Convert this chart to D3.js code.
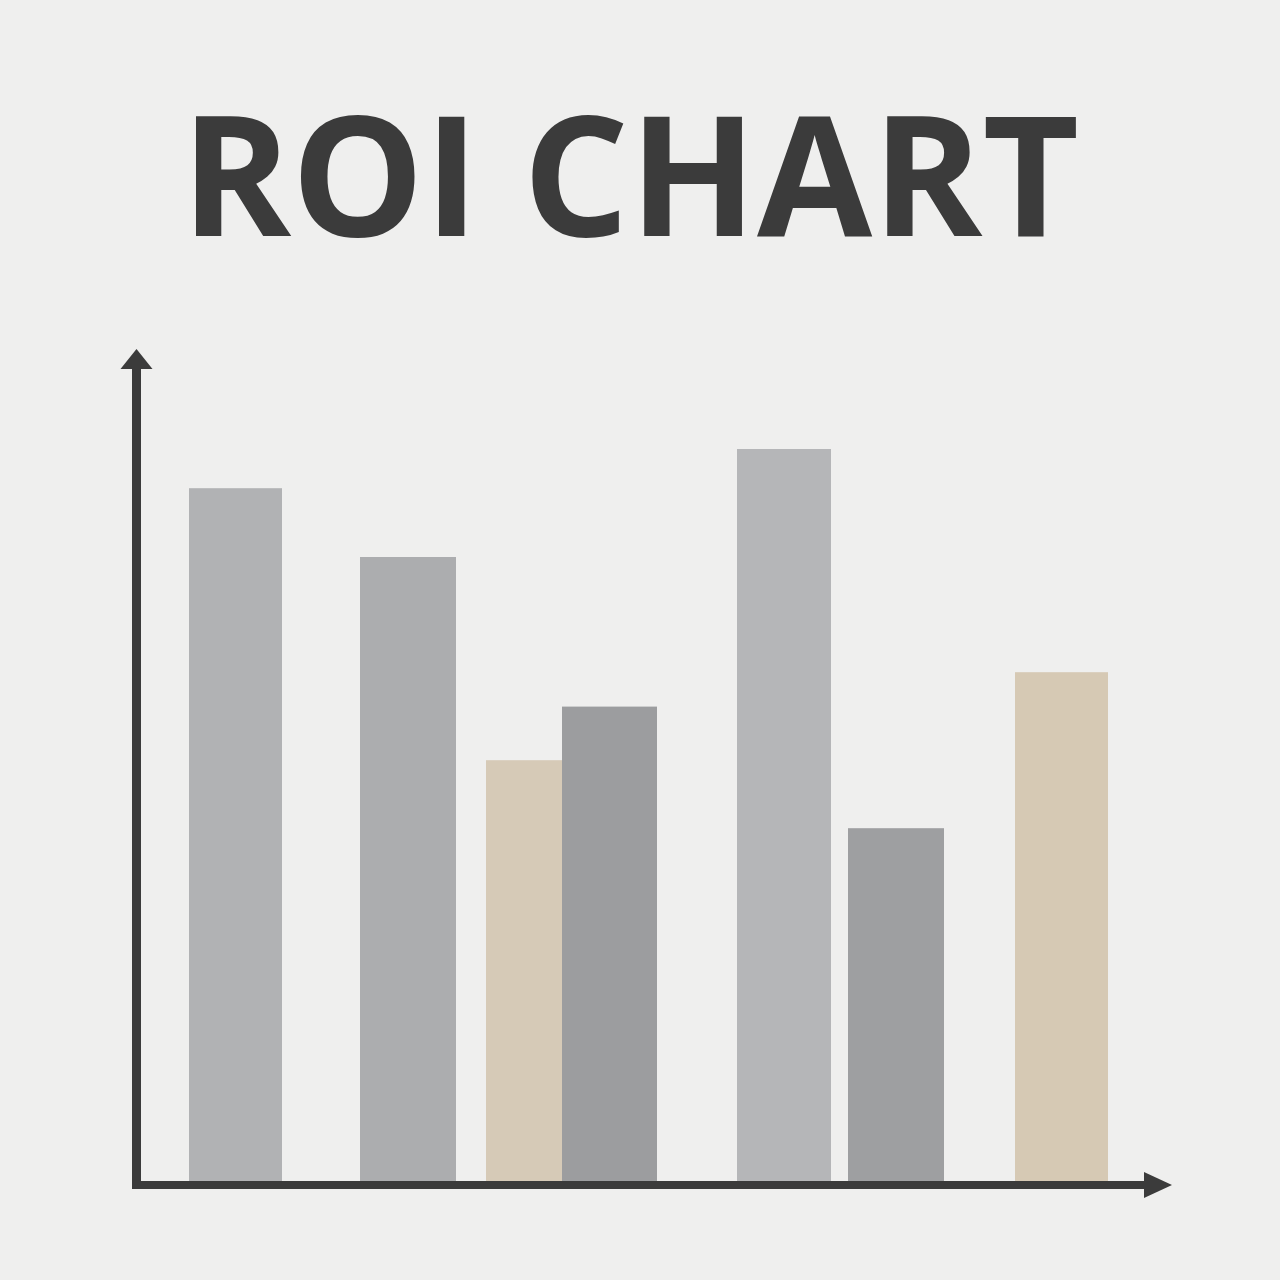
<!DOCTYPE html>
<html>
<head>
<meta charset="utf-8">
<script src="https://cdn.jsdelivr.net/npm/d3@7"></script>
<style>
  html, body { margin: 0; padding: 0; background: #efefee; }
  svg { display: block; }
</style>
</head>
<body>
<div id="chart"></div>
<script>
const categories = ["A", "B", "C", "D", "E", "F", "G"];
const roiValues = [86.6, 78, 52.6, 59.3, 91.5, 44.1, 63.6];
// bar spans on the horizontal axis (0-100 units)
const barStart = [5.3, 22.4, 35, 42.6, 60.1, 71.2, 87.9];
const barEnd = [14.6, 32, 42.6, 52.1, 69.5, 80.8, 97.2];
const barColors = ["#b1b2b4", "#acadaf", "#d6cab7", "#9c9d9f", "#b5b6b8", "#9e9fa1", "#d6c9b4"];

const width = 1280;
const height = 1280;
const cl_axis = "#3b3b3b";

const x = d3.scaleLinear().domain([0, 100]).range([136, 1136]);
const y = d3.scaleLinear().domain([0, 100]).range([1181, 381]);

const svg = d3.select("#chart")
  .append("svg")
  .attr("width", width)
  .attr("height", height);

svg.append("rect")
  .attr("width", width)
  .attr("height", height)
  .attr("fill", "#efefee");

svg.append("text")
  .attr("x", 630)
  .attr("y", 236)
  .attr("text-anchor", "middle")
  .style("font-family", "'Open Sans', sans-serif")
  .style("font-weight", 700)
  .style("font-size", "167px")
  .style("fill", cl_axis)
  .text("ROI CHART");

const data = categories.map((c, i) => ({
  cat: c, value: roiValues[i], x0: barStart[i], x1: barEnd[i], color: barColors[i]
}));

svg.append("g")
  .selectAll("rect")
  .data(data)
  .enter()
  .append("rect")
  .attr("x", d => x(d.x0))
  .attr("width", d => x(d.x1) - x(d.x0))
  .attr("y", d => y(d.value))
  .attr("height", d => y(0) - y(d.value))
  .attr("fill", d => d.color);

// axes with arrows
const axisX0 = x(0) + 0.5;
const axisY0 = y(0) + 4;
const g = svg.append("g").style("fill", cl_axis);

g.append("rect")
  .attr("x", axisX0 - 4.5)
  .attr("y", 368)
  .attr("width", 9)
  .attr("height", axisY0 + 4 - 368);

g.append("path")
  .attr("d", `M${axisX0 - 16},369 L${axisX0},349 L${axisX0 + 16},369 Z`);

g.append("rect")
  .attr("x", axisX0 - 4.5)
  .attr("y", axisY0 - 4)
  .attr("width", 1146 - (axisX0 - 4.5))
  .attr("height", 8);

g.append("path")
  .attr("d", `M1144,${axisY0 - 13} L1172,${axisY0} L1144,${axisY0 + 13} Z`);
</script>
</body>
</html>
